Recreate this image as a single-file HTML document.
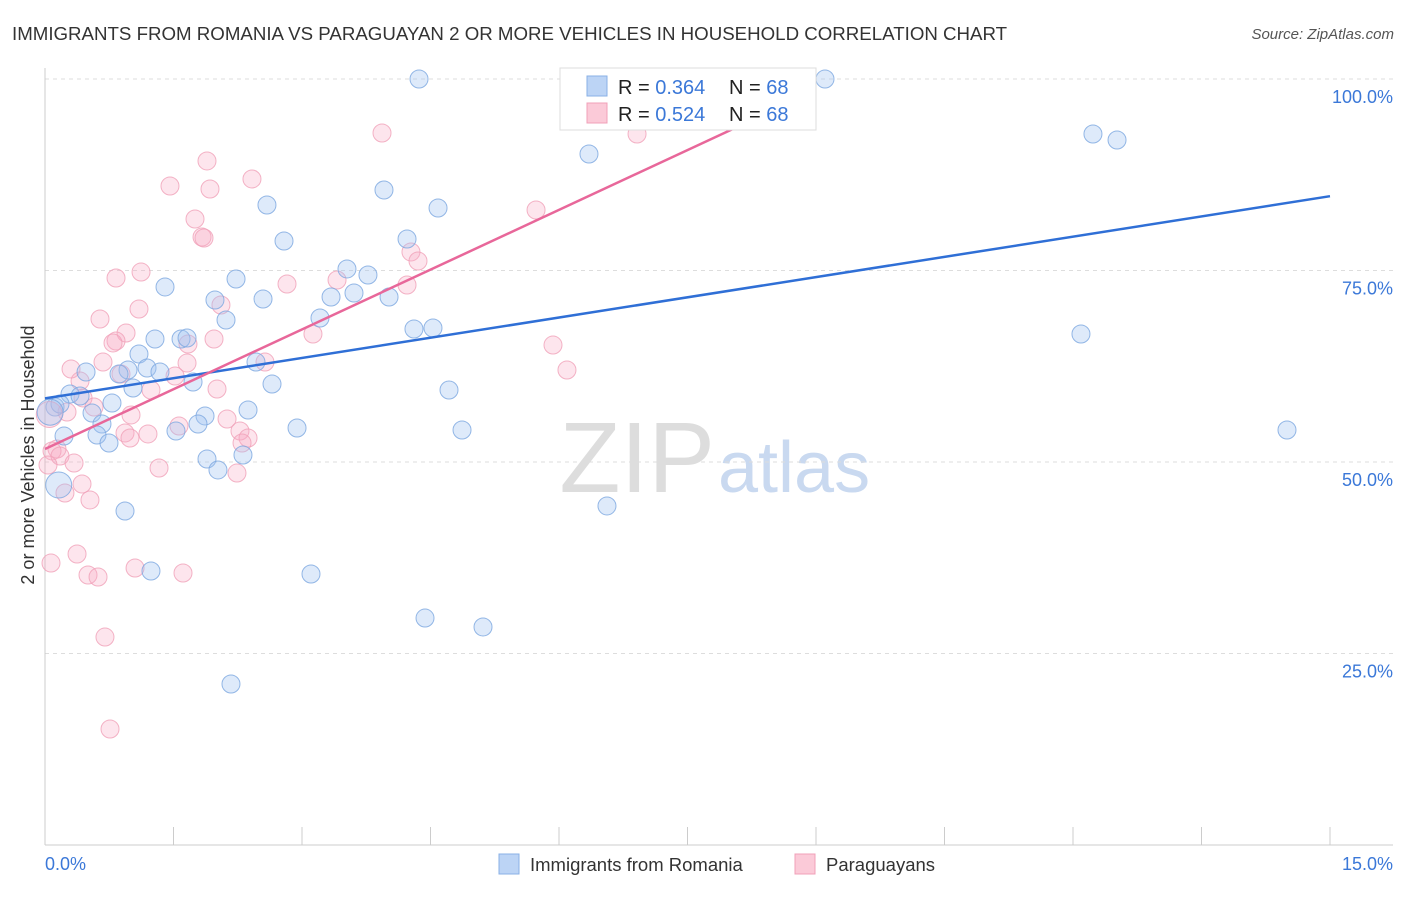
<!DOCTYPE html>
<html><head><meta charset="utf-8"><style>
body{margin:0;background:#fff;font-family:"Liberation Sans",sans-serif;}
svg text{font-family:"Liberation Sans",sans-serif;}
</style></head><body>
<svg id="c" width="1406" height="892" xmlns="http://www.w3.org/2000/svg">
<text x="12" y="40" font-size="18.7" fill="#333">IMMIGRANTS FROM ROMANIA VS PARAGUAYAN 2 OR MORE VEHICLES IN HOUSEHOLD CORRELATION CHART</text>
<text x="1394" y="39" font-size="15" fill="#555" text-anchor="end" font-style="italic">Source: ZipAtlas.com</text>
<text x="715" y="492" font-size="100" fill="#ddd" text-anchor="end" font-family="Liberation Serif">ZIP</text>
<text x="718" y="492" font-size="72" fill="#c9d9f0">atlas</text>
<g id="grid"></g><g id="pts"></g><g id="lines"></g>
<text transform="translate(34,455) rotate(-90)" font-size="18" fill="#333" text-anchor="middle">2 or more Vehicles in Household</text>
<text x="45" y="870" font-size="18" fill="#3b78d8">0.0%</text>
<text x="1393" y="870" font-size="18" fill="#3b78d8" text-anchor="end">15.0%</text>
<g>
<rect x="560" y="68" width="256" height="62" fill="#fff" stroke="#ddd"/>
<rect x="587" y="76" width="20" height="20" fill="#bcd4f5" stroke="#8ab0e6"/>
<rect x="587" y="103" width="20" height="20" fill="#fbcad8" stroke="#f0a0b8"/>
<text x="618" y="94" font-size="20" fill="#222">R = <tspan fill="#3b78d8">0.364</tspan><tspan x="729">N = </tspan><tspan fill="#3b78d8">68</tspan></text>
<text x="618" y="121" font-size="20" fill="#222">R = <tspan fill="#3b78d8">0.524</tspan><tspan x="729">N = </tspan><tspan fill="#3b78d8">68</tspan></text>
</g>
<g>
<rect x="499" y="854" width="20" height="20" fill="#bcd4f5" stroke="#8ab0e6"/>
<text x="530" y="871" font-size="18.5" fill="#333">Immigrants from Romania</text>
<rect x="795" y="854" width="20" height="20" fill="#fbcad8" stroke="#f0a0b8"/>
<text x="826" y="871" font-size="18.5" fill="#333">Paraguayans</text>
</g>
</svg>
<script>
const yTicks=[100,75,50,25];
const yTickLabels=["100.0%","75.0%","50.0%","25.0%"];
const xTicks=[0,1.5,3,4.5,6,7.5,9,10.5,12,13.5,15];
const bluePx=[[419,79],[825,79],[1093,134],[1117,140],[589,154],[384,190],[267,205],[438,208],[284,241],[407,239],[347,269],[368,275],[236,279],[165,287],[354,293],[331,297],[389,297],[215,300],[263,299],[320,318],[226,320],[414,329],[433,328],[1081,334],[155,339],[181,339],[187,338],[139,354],[256,362],[147,368],[160,372],[86,372],[128,370],[119,374],[193,382],[272,384],[133,388],[449,390],[70,394],[80,396],[112,403],[55,407],[92,413],[248,410],[205,416],[198,424],[102,424],[297,428],[176,431],[462,430],[1287,430],[64,436],[97,435],[109,443],[243,455],[207,459],[218,470],[607,506],[125,511],[151,571],[311,574],[425,618],[483,627],[231,684],[60,404]];
const pinkPx=[[382,133],[637,134],[207,161],[252,179],[170,186],[210,189],[195,219],[202,237],[204,238],[536,210],[411,252],[418,261],[141,272],[116,278],[287,284],[337,280],[407,285],[221,305],[139,309],[100,319],[313,334],[126,333],[214,339],[116,341],[113,343],[188,344],[553,345],[103,362],[265,362],[187,363],[71,369],[121,374],[567,370],[175,376],[80,381],[217,389],[151,390],[83,398],[94,407],[67,412],[131,415],[227,419],[179,426],[240,431],[148,434],[125,433],[130,438],[248,438],[242,443],[57,449],[52,451],[60,456],[74,463],[159,468],[237,473],[48,465],[82,484],[65,493],[90,500],[77,554],[51,563],[135,568],[183,573],[88,575],[98,577],[105,637],[110,729]];
const toX=p=>(p-45)/1285*15, toY=p=>(845-p)/766*100;
const blueX=bluePx.map(p=>+toX(p[0]).toFixed(3)), blueY=bluePx.map(p=>+toY(p[1]).toFixed(2));
const pinkX=pinkPx.map(p=>+toX(p[0]).toFixed(3)), pinkY=pinkPx.map(p=>+toY(p[1]).toFixed(2));
const bigBlue=[[0.06,56.5],[0.16,47.0]], bigPink=[[0.05,56.2]];
const blueTrend=[[0,58.3],[15,84.7]], pinkTrend=[[0,51.7],[8.4,95.4]];
const sx=v=>45+v/15*1285, sy=v=>845-v/100*766;
const NS="http://www.w3.org/2000/svg";
function mk(t,a,parent){const e=document.createElementNS(NS,t);for(const k in a)e.setAttribute(k,a[k]);document.getElementById(parent).appendChild(e);return e;}
yTicks.forEach((t,i)=>{
 const l=mk('line',{x1:45,x2:1393,y1:sy(t),y2:sy(t),stroke:'#ddd','stroke-dasharray':'4,4'},'grid');
 
 
 const tx=mk('text',{x:1393,y:sy(t)+24,'font-size':18,fill:'#3b78d8','text-anchor':'end'},'grid');
 tx.textContent=yTickLabels[i];
 
 
});
const ax=mk('line',{x1:45,x2:45,y1:68,y2:845,stroke:'#ccc'},'grid');


const bx=mk('line',{x1:45,x2:1393,y1:845,y2:845,stroke:'#ccc'},'grid');


xTicks.forEach(t=>{
 const l=mk('line',{x1:sx(t),x2:sx(t),y1:827,y2:845,stroke:'#ccc'},'grid');
 
 
});
function pt(x,y,r,fill,stroke,name){
 const c=mk('circle',{cx:sx(x),cy:sy(y),r:r,fill:fill,stroke:stroke,'stroke-width':1,'stroke-opacity':0.8},'pts');
 
 
}
pinkX.forEach((x,i)=>pt(x,pinkY[i],9,'rgba(248,170,195,0.3)','#f0a0b8','point-paraguayans'));
blueX.forEach((x,i)=>pt(x,blueY[i],9,'rgba(160,195,240,0.35)','#7aa6e0','point-romania'));
bigPink.forEach(p=>pt(p[0],p[1],13,'rgba(248,170,195,0.3)','#f0a0b8','point-paraguayans'));
bigBlue.forEach(p=>pt(p[0],p[1],13,'rgba(160,195,240,0.35)','#7aa6e0','point-romania'));
const bl=mk('line',{x1:sx(blueTrend[0][0]),y1:sy(blueTrend[0][1]),x2:sx(blueTrend[1][0]),y2:sy(blueTrend[1][1]),stroke:'#2f6fd6','stroke-width':2.5},'lines');


const pl=mk('line',{x1:sx(pinkTrend[0][0]),y1:sy(pinkTrend[0][1]),x2:sx(pinkTrend[1][0]),y2:sy(pinkTrend[1][1]),stroke:'#e8679a','stroke-width':2.5},'lines');


</script>
</body></html>
